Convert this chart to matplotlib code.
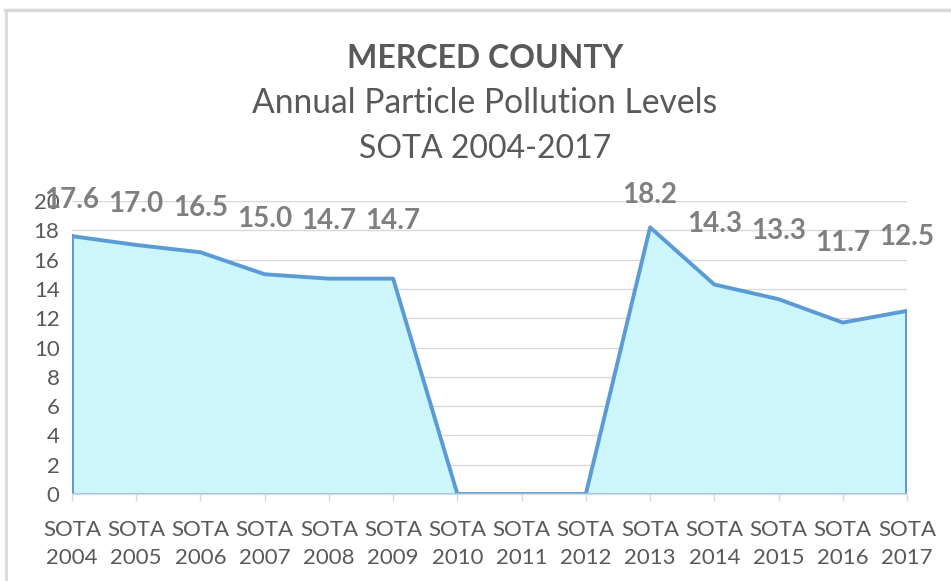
import matplotlib
matplotlib.use("Agg")
import matplotlib.pyplot as plt
from matplotlib.lines import Line2D

categories = ["SOTA\n2004", "SOTA\n2005", "SOTA\n2006", "SOTA\n2007", "SOTA\n2008",
              "SOTA\n2009", "SOTA\n2010", "SOTA\n2011", "SOTA\n2012", "SOTA\n2013",
              "SOTA\n2014", "SOTA\n2015", "SOTA\n2016", "SOTA\n2017"]
values = [17.6, 17.0, 16.5, 15.0, 14.7, 14.7, 0, 0, 0, 18.2, 14.3, 13.3, 11.7, 12.5]
labels = ["17.6", "17.0", "16.5", "15.0", "14.7", "14.7", None, None, None,
          "18.2", "14.3", "13.3", "11.7", "12.5"]
yticks = [0, 2, 4, 6, 8, 10, 12, 14, 16, 18, 20]

FONT = ["Lato", "DejaVu Sans"]
plt.rcParams['font.family'] = FONT

fig = plt.figure(figsize=(9.51, 5.81), dpi=100)
W, H = 951, 581
ax = fig.add_axes([72 / W, (H - 494) / H, (907 - 72) / W, (494 - 201) / H])

x = list(range(len(values)))
ax.fill_between(x, values, 0, facecolor="#CCF5FC", edgecolor="none", zorder=2)
ax.plot(x, values, color="#5B9BD5", lw=2.8, zorder=3, solid_joinstyle="round")
ax.plot([x[0], x[0]], [0, values[0]], color="#5B9BD5", lw=2.8, zorder=3)
ax.plot([x[-1], x[-1]], [0, values[-1]], color="#5B9BD5", lw=2.8, zorder=3)
ax.plot([x[0], x[-1]], [0, 0], color="#9DC3E6", lw=2.0, zorder=3)

ax.set_xlim(0, len(values) - 1)
ax.set_ylim(0, 20)
ax.set_yticks(yticks)
ax.set_yticklabels([str(t) for t in yticks])
ax.set_xticks(x)
ax.set_xticklabels(categories, linespacing=1.45)
ax.grid(axis="y", color="#D9D9D9", lw=1.0, zorder=0)
ax.set_axisbelow(True)
for s in ["top", "right", "left"]:
    ax.spines[s].set_visible(False)
ax.spines["bottom"].set_color("#D9D9D9")
ax.tick_params(axis="y", length=0, pad=9, labelsize=16, labelcolor="#595959")
ax.tick_params(axis="x", length=5, color="#D9D9D9", width=1, pad=14,
               labelsize=16, labelcolor="#595959")

for xi, v, lab in zip(x, values, labels):
    if lab is None:
        continue
    ax.text(xi, 0.5 * v + 11.3, lab, ha="center", va="center", fontsize=20,
            fontweight="bold", color="#7F7F7F", clip_on=False, zorder=5)

fig.text(485 / W, 1 - 58 / H, "MERCED COUNTY", ha="center", va="center",
         fontsize=23, fontweight="bold", color="#595959")
fig.text(485 / W, 1 - 103 / H, "Annual Particle Pollution Levels", ha="center",
         va="center", fontsize=24.2, color="#595959")
fig.text(485 / W, 1 - 149 / H, "SOTA 2004-2017", ha="center", va="center",
         fontsize=23, color="#595959")

# outer chart border (top and left visible)
fig.add_artist(Line2D([5 / W, 1], [1 - 10 / H, 1 - 10 / H], color="#D9D9D9", lw=2.5,
                      transform=fig.transFigure))
fig.add_artist(Line2D([5.5 / W, 5.5 / W], [0, 1 - 10 / H], color="#D9D9D9", lw=2.0,
                      transform=fig.transFigure))

fig.savefig("out.png", dpi=100, facecolor="white")
